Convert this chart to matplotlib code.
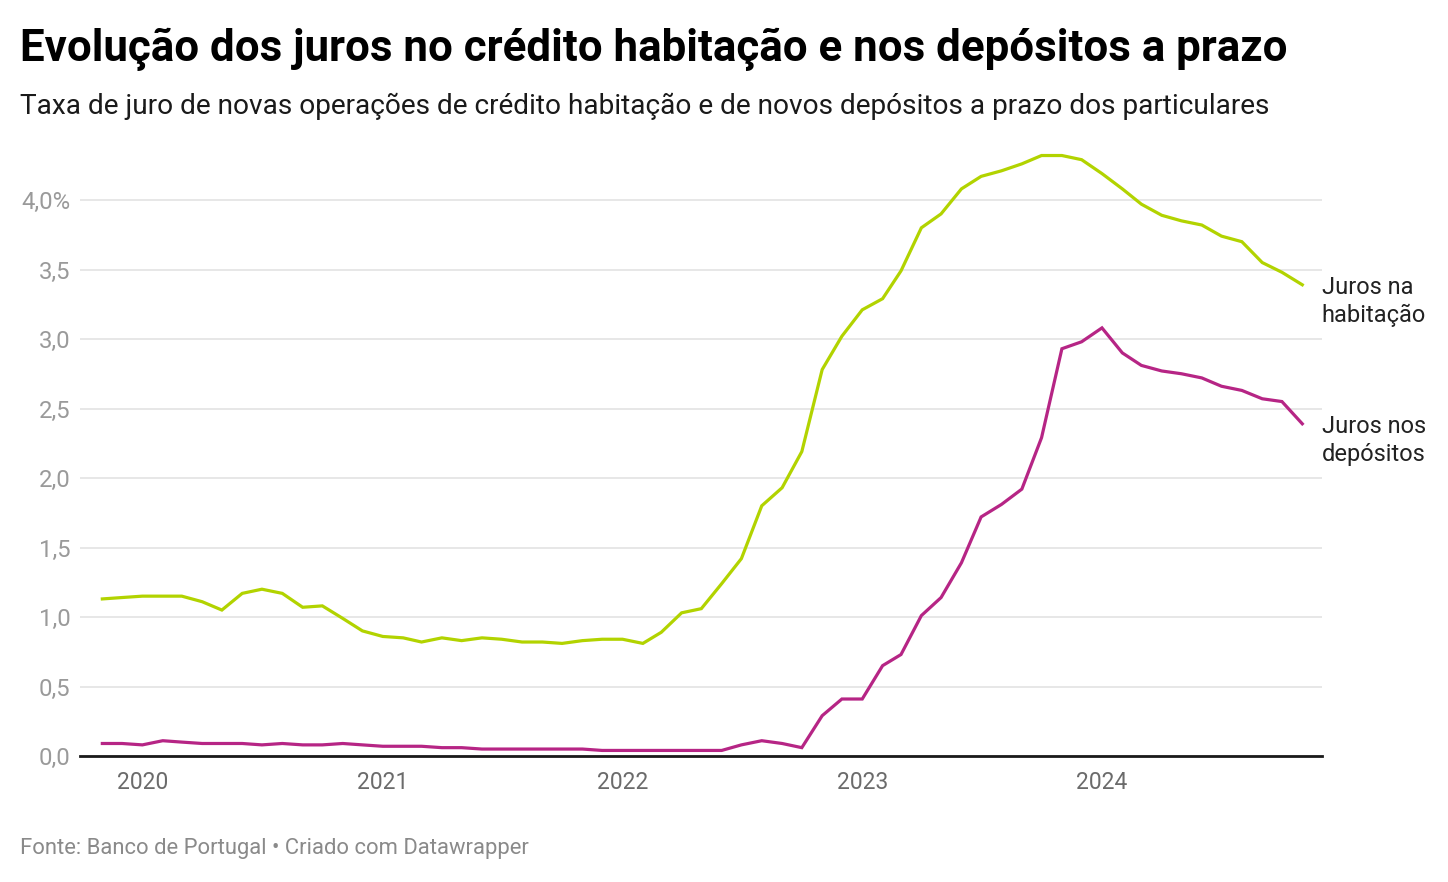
import numpy as np
import pandas as pd
import matplotlib
matplotlib.use("Agg")
import matplotlib.pyplot as plt
import matplotlib.dates as mdates

plt.rcParams['font.family'] = ['Roboto', 'DejaVu Sans']

# dados mensais, nov 2019 a nov 2024
meses = pd.date_range("2019-11-01", "2024-11-01", freq="MS")

habitacao = [1.13, 1.14, 1.15, 1.15, 1.15, 1.11, 1.05, 1.17, 1.20, 1.17,
             1.07, 1.08, 0.99, 0.90, 0.86, 0.85, 0.82, 0.85, 0.83, 0.85,
             0.84, 0.82, 0.82, 0.81, 0.83, 0.84, 0.84, 0.81, 0.89, 1.03,
             1.06, 1.24, 1.42, 1.80, 1.93, 2.19, 2.78, 3.02, 3.21, 3.29,
             3.49, 3.80, 3.90, 4.08, 4.17, 4.21, 4.26, 4.32, 4.32, 4.29,
             4.19, 4.08, 3.97, 3.89, 3.85, 3.82, 3.74, 3.70, 3.55, 3.48,
             3.39]

depositos = [0.09, 0.09, 0.08, 0.11, 0.10, 0.09, 0.09, 0.09, 0.08, 0.09,
             0.08, 0.08, 0.09, 0.08, 0.07, 0.07, 0.07, 0.06, 0.06, 0.05,
             0.05, 0.05, 0.05, 0.05, 0.05, 0.04, 0.04, 0.04, 0.04, 0.04,
             0.04, 0.04, 0.08, 0.11, 0.09, 0.06, 0.29, 0.41, 0.41, 0.65,
             0.73, 1.01, 1.14, 1.39, 1.72, 1.81, 1.92, 2.29, 2.93, 2.98,
             3.08, 2.90, 2.81, 2.77, 2.75, 2.72, 2.66, 2.63, 2.57, 2.55,
             2.39]

y_ticks = [0, 0.5, 1.0, 1.5, 2.0, 2.5, 3.0, 3.5, 4.0]
y_labels = ["0,0", "0,5", "1,0", "1,5", "2,0", "2,5", "3,0", "3,5", "4,0%"]

verde = "#b2d300"
magenta = "#b62585"

W, H = 1448, 882
fig = plt.figure(figsize=(W / 100, H / 100), dpi=100)
ax = fig.add_axes([80 / W, 1 - 756 / H, (1322 - 80) / W, (756 - 140) / H])

ax.plot(meses, habitacao, color=verde, lw=2.3, solid_joinstyle="miter")
ax.plot(meses, depositos, color=magenta, lw=2.3, solid_joinstyle="miter")

ax.set_ylim(0, (756 - 140) / 139)
ax.set_xlim(pd.Timestamp("2019-09-28"), pd.Timestamp("2024-12-01"))

ax.set_yticks(y_ticks)
ax.set_yticklabels(y_labels)
ax.xaxis.set_major_locator(mdates.YearLocator())
ax.xaxis.set_major_formatter(mdates.DateFormatter("%Y"))

ax.grid(axis="y", color="#e3e3e3", lw=1.2)
ax.set_axisbelow(True)
for s in ["top", "right", "left"]:
    ax.spines[s].set_visible(False)
ax.spines["bottom"].set_color("#1a1a1a")
ax.spines["bottom"].set_linewidth(2)
ax.spines["bottom"].set_zorder(5)
ax.tick_params(axis="y", length=0, pad=7, labelsize=17.2, labelcolor="#9a9a9a")
ax.tick_params(axis="x", length=0, pad=11, labelsize=16.5, labelcolor="#6b6b6b")

# rotulos no fim das linhas
ax.annotate("Juros na\nhabitação", (meses[-1], habitacao[-1]), xytext=(14, 6),
            textcoords="offset points", va="top", ha="left", fontsize=17,
            color="#222222", linespacing=1.25, annotation_clip=False)
ax.annotate("Juros nos\ndepósitos", (meses[-1], depositos[-1]), xytext=(14, 6),
            textcoords="offset points", va="top", ha="left", fontsize=17,
            color="#222222", linespacing=1.25, annotation_clip=False)

fig.text(20 / W, 1 - 61 / H, "Evolução dos juros no crédito habitação e nos depósitos a prazo",
         fontsize=31.6, fontweight="bold", color="#000000", va="baseline")
fig.text(20 / W, 1 - 114 / H,
         "Taxa de juro de novas operações de crédito habitação e de novos depósitos a prazo dos particulares",
         fontsize=20.15, color="#1a1a1a", va="baseline")
fig.text(20 / W, 1 - 854 / H, "Fonte: Banco de Portugal • Criado com Datawrapper",
         fontsize=15.8, color="#8a8a8a", va="baseline")

fig.savefig("out.png", dpi=100, facecolor="white")
